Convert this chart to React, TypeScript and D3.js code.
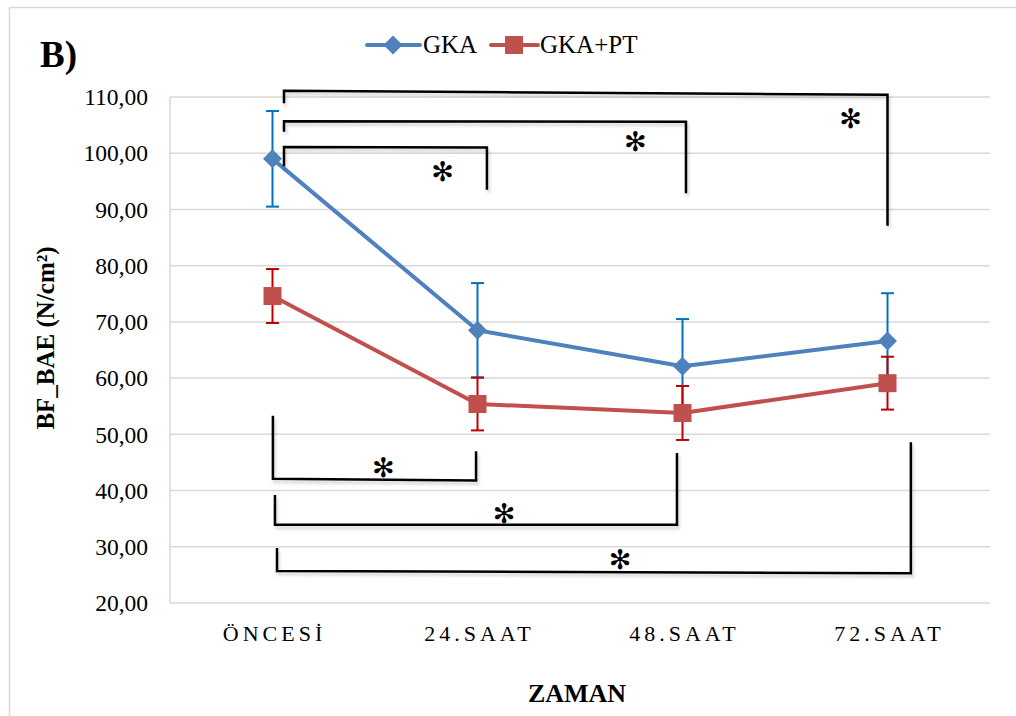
import React from "react";
import * as d3 from "d3";

const categories = ["ÖNCESİ", "24.SAAT", "48.SAAT", "72.SAAT"];
const yTicks = [20, 30, 40, 50, 60, 70, 80, 90, 100, 110];

const gkaMean = [99.0, 68.5, 62.1, 66.6];
const gkaErr = [8.5, 8.4, 8.4, 8.5];
const ptMean = [74.6, 55.4, 53.8, 59.1];
const ptErr = [4.8, 4.7, 4.8, 4.7];

// significance brackets: points as [category position, value]
const brackets: [number, number][][] = [
  [[0.056, 108.9], [0.056, 111.1], [3.0, 110.4], [3.0, 87.1]],
  [[0.056, 103.8], [0.056, 105.7], [2.017, 105.6], [2.017, 92.9]],
  [[0.056, 97.7], [0.056, 101.1], [1.046, 101.0], [1.046, 93.5]],
  [[0.002, 53.3], [0.002, 42.1], [0.993, 41.8], [0.993, 47.0]],
  [[0.012, 39.2], [0.012, 33.9], [1.973, 33.9], [1.973, 46.7]],
  [[0.022, 29.8], [0.022, 25.7], [3.114, 25.3], [3.114, 48.6]],
];
const stars: [number, number][] = [
  [0.83, 96.7], [1.77, 102.2], [2.82, 106.3],
  [0.54, 44.2], [1.13, 36.0], [1.695, 27.8],
];

const W = 1016;
const H = 716;
const plot = { left: 170, right: 990, top: 97, bottom: 603 };

const x = d3.scaleLinear().domain([-0.5, 3.5]).range([plot.left, plot.right]);
const y = d3.scaleLinear().domain([20, 110]).range([plot.bottom, plot.top]);

const blue = "#4F81BD";
const blueErr = "#0070C0";
const red = "#C0504D";
const redErr = "#C00000";
const serif = "'Liberation Serif', 'DejaVu Serif', serif";
const tf = { fontFamily: serif };

const line = d3.line<number>().x((d, i) => x(i)).y((d) => y(d));
const bLine = d3.line<[number, number]>().x((d) => x(d[0])).y((d) => y(d[1]));

function ErrorBars({ mean, err, color }: { mean: number[]; err: number[]; color: string }) {
  return (
    <g stroke={color} strokeWidth={2}>
      {mean.map((m, i) => (
        <g key={i}>
          <line x1={x(i)} x2={x(i)} y1={y(m - err[i])} y2={y(m + err[i])} />
          <line x1={x(i) - 6.5} x2={x(i) + 6.5} y1={y(m + err[i])} y2={y(m + err[i])} />
          <line x1={x(i) - 6.5} x2={x(i) + 6.5} y1={y(m - err[i])} y2={y(m - err[i])} />
        </g>
      ))}
    </g>
  );
}

const diamond = (cx: number, cy: number, r = 9.5) =>
  `M${cx},${cy - r}L${cx + r},${cy}L${cx},${cy + r}L${cx - r},${cy}Z`;

export default function App() {
  return (
    <svg
      width={W}
      height={H}
      style={{ position: "fixed", left: 0, top: 0, background: "#fff" }}
    >
      <defs>
        <filter id="sh" x="-10%" y="-10%" width="120%" height="130%">
          <feDropShadow dx="1.5" dy="3" stdDeviation="1.5" floodColor="#000" floodOpacity="0.18" />
        </filter>
      </defs>
      <rect x={9.5} y={7.5} width={W + 20} height={H + 20} fill="#fff" stroke="#d9d9d9" strokeWidth={1.5} />

      <text x={40} y={67} fontSize={37} fontWeight="bold" style={tf}>B)</text>

      {/* legend */}
      <g style={tf}>
        <line x1={367} x2={420} y1={45} y2={45} stroke={blue} strokeWidth={4} strokeLinecap="round" />
        <path d={diamond(393, 45)} fill={blue} />
        <text x={423} y={53} fontSize={25}>GKA</text>
        <line x1={491} x2={538} y1={45} y2={45} stroke={red} strokeWidth={4} strokeLinecap="round" />
        <rect x={505} y={36} width={18} height={18} fill={red} />
        <text x={540} y={53} fontSize={25}>GKA+PT</text>
      </g>

      {/* grid */}
      <g stroke="#d9d9d9" strokeWidth={1.5}>
        {yTicks.map((t) => (
          <line key={t} x1={plot.left} x2={plot.right} y1={y(t)} y2={y(t)} />
        ))}
        <line x1={plot.left} x2={plot.left} y1={plot.top} y2={plot.bottom} />
      </g>
      <g fontSize={23.5} textAnchor="end" style={tf}>
        {yTicks.map((t) => (
          <text key={t} x={148} y={y(t)} dy="0.35em">
            {d3.format(".2f")(t).replace(".", ",")}
          </text>
        ))}
      </g>
      <g fontSize={22} textAnchor="middle" letterSpacing={4} style={tf}>
        {categories.map((c, i) => (
          <text key={c} x={x(i) + 2} y={641}>{c}</text>
        ))}
      </g>
      <text x={577} y={702} fontSize={26} fontWeight="bold" textAnchor="middle" style={tf}>ZAMAN</text>
      <text
        transform={`translate(54,${338}) rotate(-90)`}
        fontSize={25}
        fontWeight="bold"
        textAnchor="middle"
        style={tf}
      >
        BF_BAE (N/cm²)
      </text>

      {/* GKA series */}
      <ErrorBars mean={gkaMean} err={gkaErr} color={blueErr} />
      <path d={line(gkaMean) || ""} fill="none" stroke={blue} strokeWidth={4} strokeLinejoin="round" />
      {gkaMean.map((m, i) => (
        <path key={i} d={diamond(x(i), y(m))} fill={blue} />
      ))}

      {/* GKA+PT series */}
      <ErrorBars mean={ptMean} err={ptErr} color={redErr} />
      <path d={line(ptMean) || ""} fill="none" stroke={red} strokeWidth={4} strokeLinejoin="round" />
      {ptMean.map((m, i) => (
        <rect key={i} x={x(i) - 9} y={y(m) - 9} width={18} height={18} fill={red} />
      ))}

      {/* significance brackets */}
      <g fill="none" stroke="#000" strokeWidth={2.5} filter="url(#sh)">
        {brackets.map((b, i) => (
          <path key={i} d={bLine(b) || ""} />
        ))}
      </g>
      <g fontSize={27} textAnchor="middle" style={{ fontFamily: "'DejaVu Sans', sans-serif" }}>
        {stars.map((s, i) => (
          <text key={i} x={x(s[0])} y={y(s[1])} dy="0.36em">✻</text>
        ))}
      </g>
    </svg>
  );
}
